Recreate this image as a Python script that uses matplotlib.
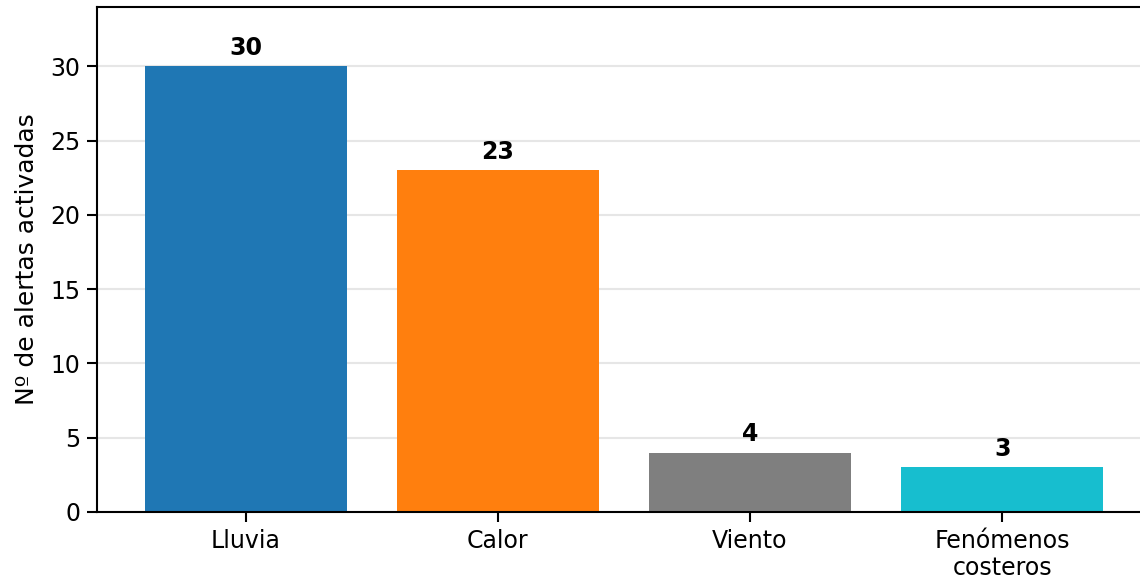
import matplotlib
matplotlib.use("Agg")
import matplotlib.pyplot as plt

categories = ["Lluvia", "Calor", "Viento", "Fenómenos\ncosteros"]
values = [30, 23, 4, 3]
colors = ["#1f77b4", "#ff7f0e", "#7f7f7f", "#17becf"]
yticks = [0, 5, 10, 15, 20, 25, 30]

fig = plt.figure(figsize=(11.4, 5.84), dpi=100)
ax = fig.add_axes([0.0851, 0.1233, 0.9245, 0.8647])
x = list(range(len(categories)))
bars = ax.bar(x, values, width=0.8, color=colors, zorder=2)
for xi, v in zip(x, values):
    ax.text(xi, v + 0.45, str(v), ha="center", va="bottom", fontsize=17, fontweight="bold")
ax.set_xticks(x)
ax.set_xticklabels(categories, fontsize=17)
ax.set_yticks(yticks)
ax.tick_params(axis="both", labelsize=17, length=7, width=1.5, pad=5)
ax.set_ylim(0, 34)
ax.set_xlim(-0.59, 3.59)
ax.set_ylabel("Nº de alertas activadas", fontsize=18, labelpad=8)
ax.yaxis.grid(True, color="#e6e6e6", linewidth=1.5, zorder=0)
ax.set_axisbelow(True)
for s in ax.spines.values():
    s.set_linewidth(1.5)
fig.savefig("out.png", dpi=100)
